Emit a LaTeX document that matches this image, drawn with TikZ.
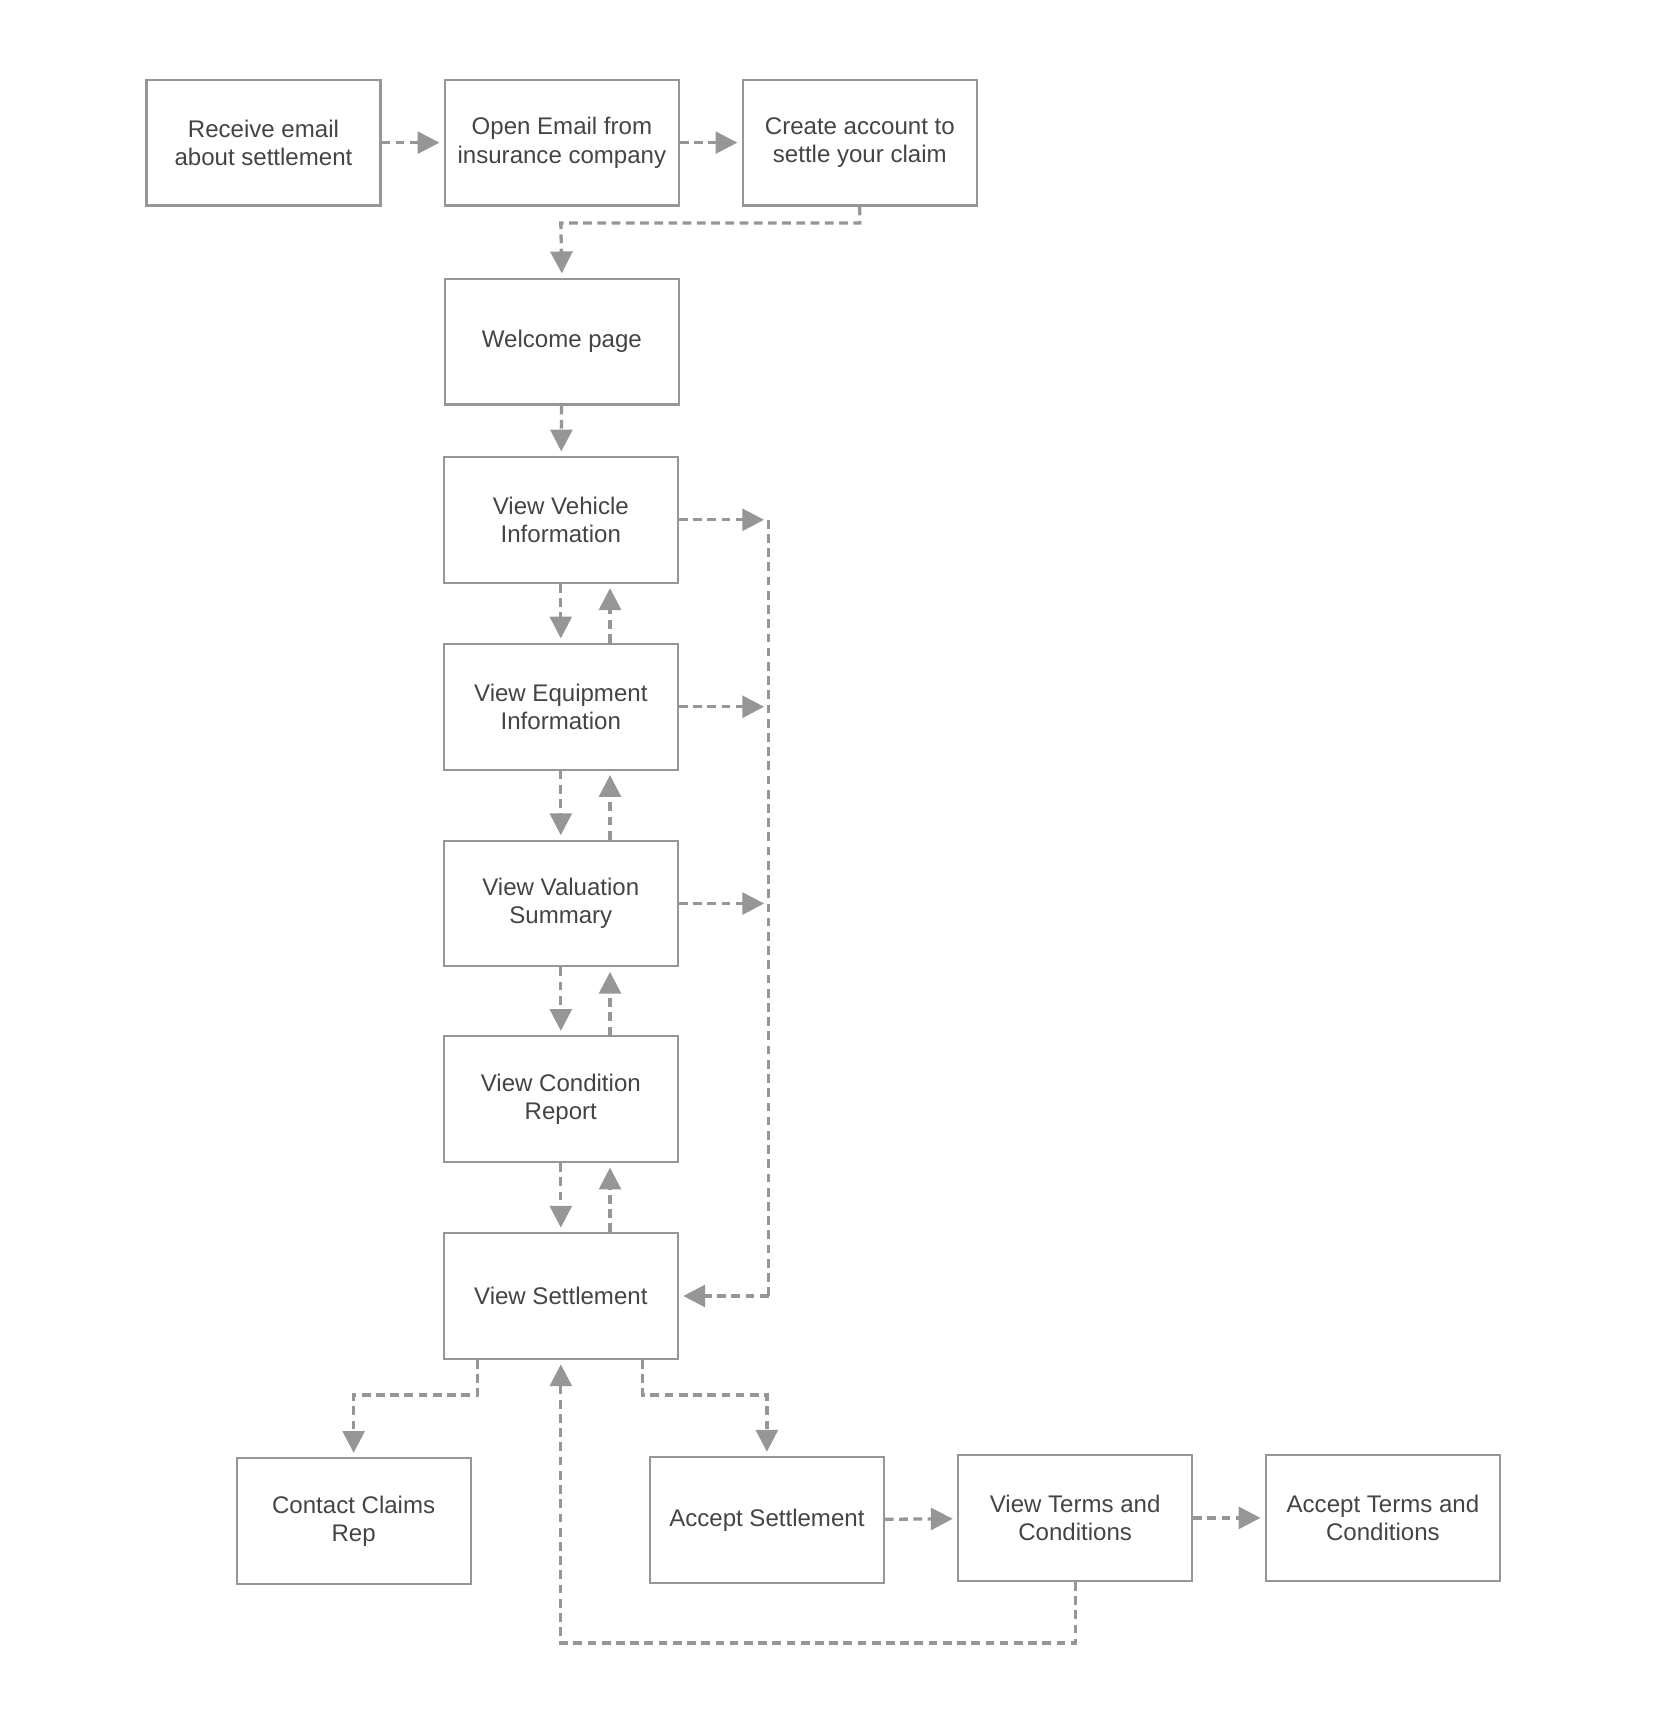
\documentclass[tikz,border=0pt]{standalone}
\usepackage{fontspec}
\setmainfont{Liberation Sans}
\usetikzlibrary{arrows.meta}

\definecolor{boxgray}{RGB}{150,150,150}
\definecolor{txtgray}{RGB}{68,68,68}

\begin{document}
\begin{tikzpicture}[x=0.5pt,y=-0.5pt,
  stepbox/.style={rectangle,draw=boxgray,line width=1pt,text=txtgray,
    minimum width=107pt,minimum height=57.5pt,align=center,
    font=\fontsize{11}{13}\selectfont,inner sep=2pt},
  flow/.style={draw=boxgray,line width=1.5pt,dash pattern=on 4pt off 2.5pt,
    -{Triangle[length=10pt,width=10pt]},shorten >=2pt},
  rail/.style={draw=boxgray,line width=1.5pt,dash pattern=on 4pt off 2.5pt}]
\useasboundingbox (0,0) rectangle (1532,1588);
\node (email)   at (241,130.5)   [stepbox] {Receive email\\about settlement};
\node (open)    at (514,130.5)   [stepbox] {Open Email from\\insurance company};
\node (create)  at (786.5,130.5) [stepbox] {Create account to\\settle your claim};
\node (welcome) at (514,312.5)   [stepbox] {Welcome page};
\node (vehicle) at (513,475.5)   [stepbox] {View Vehicle\\Information};
\node (equip)   at (513,646.5)   [stepbox] {View Equipment\\Information};
\node (valsum)  at (513,826.5)   [stepbox] {View Valuation\\Summary};
\node (cond)    at (513,1005.5)  [stepbox] {View Condition\\Report};
\node (settle)  at (513,1185.5)  [stepbox] {View Settlement};
\node (contact) at (323.5,1391.5) [stepbox] {Contact Claims\\Rep};
\node (accept)  at (701.5,1390.5) [stepbox] {Accept Settlement};
\node (terms)   at (983.5,1388.5) [stepbox] {View Terms and\\Conditions};
\node (accterm) at (1265,1388.5)  [stepbox] {Accept Terms and\\Conditions};
\coordinate (railA) at (703,475.5);
\coordinate (railB) at (703,646.5);
\coordinate (railC) at (703,826.5);
\coordinate (railD) at (703,1185.5);
% top row
\draw [flow] (email) -- (open);
\draw [flow] (open) -- (create);
\draw [flow] (create.south) |- (513,204) -- (welcome.north);
\draw [flow] (welcome) -- (vehicle);
% main column
\foreach \a/\b in {vehicle/equip,equip/valsum,valsum/cond,cond/settle}{
  \draw [flow] (\a.south) -- (\b.north);
  \draw [flow] ([xshift=22.5pt]\b.north) -- ([xshift=22.5pt]\a.south);
}
% side rail
\draw [flow] (vehicle.east) -- (railA);
\draw [flow] (equip.east) -- (railB);
\draw [flow] (valsum.east) -- (railC);
\draw [rail] (railA) -- (railD);
\draw [flow] (railD) -- (settle.east);
% bottom
\draw [flow] ([xshift=-38pt]settle.south) |- (323.5,1276) -- (contact.north);
\draw [flow] ([xshift=37.5pt]settle.south) |- (701.5,1276) -- (accept.north);
\draw [flow] (accept) -- (terms);
\draw [flow] (terms) -- (accterm);
\draw [flow] (terms.south) |- (513,1503) -- (settle.south);
\end{tikzpicture}
\end{document}
